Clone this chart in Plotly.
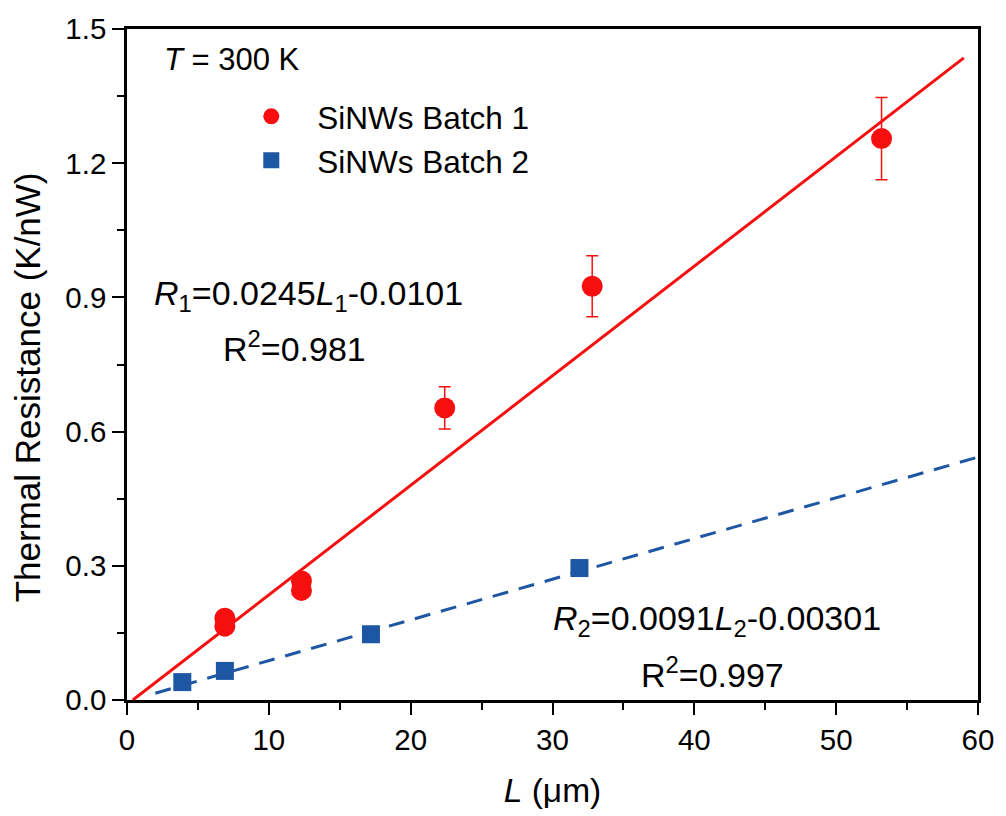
import plotly.graph_objects as go
import numpy as np

# Batch 1 (red circles)
b1_L = [6.9, 6.9, 12.3, 12.3, 22.4, 32.8, 53.2]
b1_R = [0.183, 0.165, 0.266, 0.245, 0.653, 0.925, 1.255]
b1_err = [0.0, 0.0, 0.0, 0.0, 0.047, 0.068, 0.092]

# Batch 2 (blue squares)
b2_L = [3.9, 6.9, 17.2, 31.9]
b2_R = [0.040, 0.065, 0.147, 0.295]

# Linear fits (from the chart text)
fit1_slope, fit1_icpt = 0.0245, -0.0101
fit2_slope, fit2_icpt = 0.0091, -0.00301
fit1_range = [0.41, 59.0]
fit2_range = [2.0, 60.0]

x_ticks = [0, 10, 20, 30, 40, 50, 60]
y_ticks = [0.0, 0.3, 0.6, 0.9, 1.2, 1.5]

RED = "#f70f0f"
BLUE = "#1d56a3"
FONT = "Liberation Sans, Arial, sans-serif"

fig = go.Figure()

fx1 = np.array(fit1_range)
fig.add_trace(go.Scatter(x=fx1, y=fit1_slope * fx1 + fit1_icpt, mode="lines",
                         line=dict(color=RED, width=3), showlegend=False, hoverinfo="skip"))
fx2 = np.array(fit2_range)
fig.add_trace(go.Scatter(x=fx2, y=fit2_slope * fx2 + fit2_icpt, mode="lines",
                         line=dict(color=BLUE, width=3, dash="16px,11px"),
                         showlegend=False, hoverinfo="skip"))

fig.add_trace(go.Scatter(x=b1_L, y=b1_R, mode="markers", name="SiNWs Batch 1",
                         marker=dict(symbol="circle", size=21, color=RED),
                         error_y=dict(type="data", array=b1_err, visible=True,
                                      color=RED, thickness=1.5, width=6)))
fig.add_trace(go.Scatter(x=b2_L, y=b2_R, mode="markers", name="SiNWs Batch 2",
                         marker=dict(symbol="square", size=18, color=BLUE)))

ann_font = dict(family=FONT, size=34, color="black")
fig.add_annotation(x=2.45, y=1.432, xanchor="left", yanchor="middle", showarrow=False,
                   text="<i>T</i> = 300 K", font=dict(family=FONT, size=31, color="black"))
fig.add_annotation(x=1.75, y=0.905, xanchor="left", yanchor="middle", showarrow=False,
                   text="<i>R</i><sub>1</sub>=0.0245<i>L</i><sub>1</sub>-0.0101", font=ann_font)
fig.add_annotation(x=11.8, y=0.79, xanchor="center", yanchor="middle", showarrow=False,
                   text="R<sup>2</sup>=0.981", font=ann_font)
fig.add_annotation(x=41.6, y=0.178, xanchor="center", yanchor="middle", showarrow=False,
                   text="<i>R</i><sub>2</sub>=0.0091<i>L</i><sub>2</sub>-0.00301", font=ann_font)
fig.add_annotation(x=41.3, y=0.062, xanchor="center", yanchor="middle", showarrow=False,
                   text="R<sup>2</sup>=0.997", font=ann_font)

# y-axis title (placed as rotated text, slightly below the axis centre as in the original)
fig.add_annotation(xref="paper", yref="y", x=-0.117, y=0.70, xanchor="center", yanchor="middle",
                   showarrow=False, textangle=-90, text="Thermal Resistance (K/nW)",
                   font=dict(family=FONT, size=35, color="black"))

axis_common = dict(showgrid=False, zeroline=False, showline=True, linecolor="black",
                   linewidth=2.5, mirror=True, ticks="outside", ticklen=12, tickwidth=2,
                   tickcolor="black", tickfont=dict(family=FONT, size=29.5, color="black"))

fig.update_xaxes(range=[0, 60], tickvals=x_ticks, ticktext=[str(v) for v in x_ticks],
                 minor=dict(dtick=5, ticks="outside", ticklen=7, tickwidth=2, tickcolor="black"),
                 title=dict(text="<i>L</i> (μm)", font=dict(family=FONT, size=33.5, color="black"),
                            standoff=24),
                 **axis_common)
fig.update_yaxes(range=[0, 1.5], tickvals=y_ticks, ticktext=[f"{v:.1f}" for v in y_ticks],
                 minor=dict(dtick=0.15, ticks="outside", ticklen=7, tickwidth=2, tickcolor="black"),
                 **axis_common)

fig.update_layout(
    width=1006, height=816,
    margin=dict(l=127, r=22, t=24, b=112),
    plot_bgcolor="white", paper_bgcolor="white",
    legend=dict(x=0.1155, y=0.91, xanchor="left", yanchor="top",
                font=dict(family=FONT, size=31.5, color="black"),
                bgcolor="rgba(0,0,0,0)", tracegroupgap=0, itemwidth=82),
    font=dict(family=FONT),
)

fig.write_html("out.html")
